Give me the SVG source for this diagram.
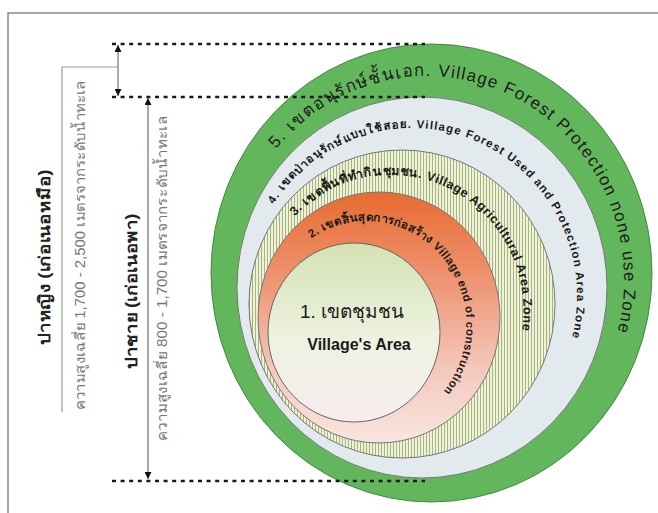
<svg xmlns="http://www.w3.org/2000/svg" width="658" height="513" viewBox="0 0 658 513">
<style>
.t{font-family:"Liberation Sans","Noto Sans","DejaVu Sans",sans-serif;fill:#1a1a1a}
.b{font-weight:bold}
.gray{fill:#777;font-size:14px}
.lbl{font-size:16px;font-weight:bold;fill:#222}
.ring{stroke:#777;stroke-width:1}
.dash{stroke:#1a1a1a;stroke-width:2.5;stroke-dasharray:4 4.6;fill:none}
.arr{stroke:#555;stroke-width:1;fill:none}
</style>
<defs>
<marker id="ah" viewBox="0 0 10 10" refX="10" refY="5" markerWidth="7" markerHeight="7" markerUnits="userSpaceOnUse" orient="auto-start-reverse">
<path d="M0,0 L10,5 L0,10 z" fill="#111"/>
</marker>
<pattern id="hatch" width="3" height="10" patternUnits="userSpaceOnUse">
<rect width="3" height="10" fill="#eef2d6"/>
<rect width="1" height="10" fill="#a7b383"/>
</pattern>
<linearGradient id="g2" x1="0" y1="0" x2="0" y2="1">
<stop offset="0" stop-color="#e76b30"/>
<stop offset="0.35" stop-color="#ee9472"/>
<stop offset="0.7" stop-color="#f4c7bb"/>
<stop offset="1" stop-color="#f8e6e1"/>
</linearGradient>
<linearGradient id="g1" x1="0" y1="0" x2="0" y2="1">
<stop offset="0" stop-color="#d3e2b1"/>
<stop offset="0.55" stop-color="#eef2e2"/>
<stop offset="1" stop-color="#f7ecee"/>
</linearGradient>
<path id="p5" d="M276.1,148.9 A197,204 0 0 1 616.4,336.2"/>
<path id="p4" d="M273.6,204.5 A165,168 0 0 1 570.2,343.7"/>
<path id="p3" d="M294.8,216.3 A133,136 0 0 1 521.5,334.4"/>
<path id="p2" d="M311.3,238.3 A100,104 0 0 1 440.8,394.6"/>
</defs>
<rect width="658" height="513" fill="#fff"/>
<g id="frame">
<path d="M8,513 V13 H658" fill="none" stroke="#8a8a8a" stroke-width="1.5"/>
</g>
<g id="zone5">
<ellipse cx="431.5" cy="273" rx="220.5" ry="229" fill="#62b75c" stroke="#3e8c3c" stroke-width="1"/>
</g>
<g id="zone4">
<ellipse class="ring" cx="422" cy="287.5" rx="185" ry="190.5" fill="#e3eaee"/>
</g>
<g id="zone3">
<ellipse class="ring" cx="402" cy="304" rx="153" ry="154" fill="url(#hatch)"/>
</g>
<g id="zone2">
<ellipse class="ring" cx="379" cy="317.5" rx="121" ry="125.5" fill="url(#g2)"/>
</g>
<g id="zone1">
<ellipse cx="354" cy="332.5" rx="86" ry="89.5" fill="url(#g1)" stroke="#666" stroke-width="1"/>
<text class="t" x="352" y="318" font-size="19" text-anchor="middle" fill="#333">1. เขตชุมชน</text>
<text class="t b" x="359" y="350" font-size="16" text-anchor="middle" fill="#333">Village's Area</text>
</g>
<g id="labels-zones">
<text class="t" font-size="17"><textPath href="#p5" textLength="540" lengthAdjust="spacing">5. เขตอนุรักษ์ชั้นเอก. Village Forest  Protection none use Zone</textPath></text>
<text class="t b" font-size="11.5"><textPath href="#p4" textLength="468" lengthAdjust="spacing">4. เขตป่าอนุรักษ์แบบใช้สอย. Village Forest  Used and Protection Area Zone</textPath></text>
<text class="t b" font-size="12.5"><textPath href="#p3" textLength="338" lengthAdjust="spacing">3. เขตพื้นที่ทำกินชุมชน. Village Agricultural Area Zone</textPath></text>
<text class="t b" font-size="11.5"><textPath href="#p2" textLength="290" lengthAdjust="spacing">2. เขตสิ้นสุดการก่อสร้าง Village end of construction</textPath></text>
</g>
<g id="connectors">
<line class="dash" x1="112" y1="44" x2="425" y2="44"/>
<line class="dash" x1="112" y1="97" x2="425" y2="97"/>
<line class="dash" x1="112" y1="481" x2="425" y2="481"/>
<line class="arr" x1="118" y1="45" x2="118" y2="96" marker-start="url(#ah)" marker-end="url(#ah)"/>
<path d="M118,67 H62 V412" fill="none" stroke="#999" stroke-width="1.2"/>
<line class="arr" x1="148" y1="98" x2="148" y2="479" marker-start="url(#ah)" marker-end="url(#ah)"/>
</g>
<g id="labels-left">
<text class="t lbl" transform="translate(50,257) rotate(-90)" text-anchor="middle" textLength="175" lengthAdjust="spacingAndGlyphs">ปาหญิง (เก่อเนอหมือ)</text>
<text class="t gray" transform="translate(85,245) rotate(-90)" text-anchor="middle" textLength="330" lengthAdjust="spacingAndGlyphs">ความสูงเฉลี่ย 1,700 - 2,500 เมตรจากระดับน้ำทะเล</text>
<text class="t lbl" transform="translate(137,291) rotate(-90)" text-anchor="middle" textLength="155" lengthAdjust="spacingAndGlyphs">ปาชาย (เก่อเนอพา)</text>
<text class="t gray" transform="translate(167,278) rotate(-90)" text-anchor="middle" textLength="325" lengthAdjust="spacingAndGlyphs">ความสูงเฉลี่ย 800 - 1,700 เมตรจากระดับน้ำทะเล</text>
</g>
</svg>
